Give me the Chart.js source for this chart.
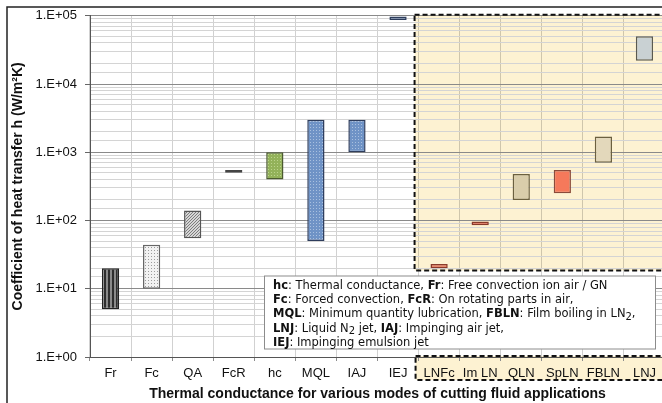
<!DOCTYPE html>
<html>
<head>
<meta charset="utf-8">
<script src="https://cdn.jsdelivr.net/npm/chart.js@4"></script>
<style>
  html, body { margin: 0; padding: 0; background: #fff; overflow: hidden; }
  #wrap { width: 668px; height: 403px; }
</style>
</head>
<body>
<div id="wrap"><canvas id="htcChart" width="668" height="403"></canvas></div>
<script>
// Heat transfer coefficient ranges (W/m2K) per cooling mode
const categories = ["Fr", "Fc", "QA", "FcR", "hc", "MQL", "IAJ", "IEJ", "LNFc", "Im LN", "QLN", "SpLN", "FBLN", "LNJ"];
const hLow  = [5, 10, 55, 500, 400, 50, 1000, 87000, 20, 85, 200, 250, 700, 22000];
const hHigh = [20, 44, 140, 550, 1000, 3000, 3000, 98000, 23, 97, 480, 550, 1700, 50000];
const yMin = 1;
const yMax = 100000;

// cryogenic group gets the shaded box
const cryoStart = "LNFc";
const cryoFloor = 18.5;

const notes = [
    [["hc", 1], [": Thermal conductance, "], ["Fr", 1], [": Free convection ion air / GN"]],
    [["Fc", 1], [": Forced convection, "], ["FcR", 1], [": On rotating parts in air,"]],
    [["MQL", 1], [": Minimum quantity lubrication, "], ["FBLN", 1], [": Film boiling in LN"], ["2", 2], [","]],
    [["LNJ", 1], [": Liquid N"], ["2", 2], [" jet, "], ["IAJ", 1], [": Impinging air jet,"]],
    [["IEJ", 1], [": Impinging emulsion jet"]]
];

function makePattern(kind, bg, fg) {
    const c = document.createElement("canvas");
    const n = kind === "vstripe" ? 4 : 3;
    c.width = n; c.height = n;
    const g = c.getContext("2d");
    g.fillStyle = bg;
    g.fillRect(0, 0, n, n);
    g.fillStyle = fg;
    if (kind === "vstripe") {
        g.fillRect(0, 0, 2, n);
    } else if (kind === "dots") {
        g.fillRect(1, 1, 1, 1);
    } else if (kind === "diag") {
        for (let i = 0; i < n; i++) g.fillRect(i, n - 1 - i, 1, 1);
    }
    return document.getElementById("htcChart").getContext("2d").createPattern(c, "repeat");
}

const fills = [
    makePattern("vstripe", "#8a8a8a", "#2e2e2e"),
    makePattern("dots", "#f2f2f2", "#9c9c9c"),
    makePattern("diag", "#d6d6d6", "#7c7c7c"),
    makePattern("diag", "#f4f4f4", "#a0a0a0"),
    makePattern("dots", "#93b25a", "#bcd48c"),
    makePattern("dots", "#6f93c6", "#a9c0df"),
    makePattern("dots", "#6f93c6", "#a9c0df"),
    "#8499bb",
    "#e8745a",
    "#e8745a",
    "#d9cdab",
    "#f5795b",
    "#e3d8bb",
    "#c9d1d3"
];
const edges = ["#222", "#666", "#555", "#444", "#4b5a30", "#2e3d5c", "#2e3d5c", "#2e3d5c",
               "#8a3a2a", "#8a3a2a", "#6b6040", "#8a4a3a", "#6b6040", "#5a5a50"];

const cryoBox = {
    id: "cryoBox",
    beforeDraw(chart) {
        const { ctx, chartArea, scales } = chart;
        const x = scales.x, y = scales.y;
        const half = (x.getPixelForValue(1) - x.getPixelForValue(0)) / 2;
        const left = x.getPixelForValue(categories.indexOf(cryoStart)) - half - 4;
        ctx.save();
        ctx.fillStyle = "#fdf2d2";
        ctx.fillRect(left, chartArea.top - 1, chart.width - left, y.getPixelForValue(cryoFloor) - chartArea.top + 1);
        ctx.fillRect(left + 1, chartArea.bottom - 1, chart.width - left, 24);
        ctx.restore();
    },
    afterDraw(chart) {
        const { ctx, chartArea, scales } = chart;
        const x = scales.x, y = scales.y;
        const half = (x.getPixelForValue(1) - x.getPixelForValue(0)) / 2;
        const left = x.getPixelForValue(categories.indexOf(cryoStart)) - half - 4;
        ctx.save();
        ctx.strokeStyle = "#111";
        ctx.lineWidth = 2;
        ctx.setLineDash([5, 3]);
        ctx.strokeRect(left, chartArea.top - 1, chart.width - left + 10, y.getPixelForValue(cryoFloor) - chartArea.top + 1);
        ctx.strokeRect(left + 1, chartArea.bottom - 1, chart.width - left + 10, 24);
        ctx.restore();

        // outer frame
        ctx.save();
        ctx.strokeStyle = "#222";
        ctx.lineWidth = 1.5;
        ctx.beginPath();
        ctx.moveTo(7, chart.height);
        ctx.lineTo(7, 7);
        ctx.lineTo(chart.width, 7);
        ctx.stroke();
        ctx.restore();

        // abbreviations box
        const bx = 264.5, by = 276, bw = 391, bh = 73;
        ctx.save();
        ctx.fillStyle = "#fff";
        ctx.fillRect(bx, by, bw, bh);
        ctx.strokeStyle = "#8c8c8c";
        ctx.lineWidth = 1;
        ctx.strokeRect(bx, by, bw, bh);
        ctx.fillStyle = "#111";
        ctx.textBaseline = "middle";
        notes.forEach((line, i) => {
            let cx = bx + 8.5;
            const cy = by + 10 + i * 14.2;
            line.forEach(([t, kind]) => {
                if (kind === 2) {
                    ctx.font = "10px 'DejaVu Sans'";
                    ctx.fillText(t, cx, cy + 3);
                } else {
                    ctx.font = (kind === 1 ? "bold " : "") + "11.5px 'DejaVu Sans'";
                    ctx.fillText(t, cx, cy);
                }
                cx += ctx.measureText(t).width;
            });
        });
        ctx.restore();
    }
};

function decadeLabel(v) {
    const e = Math.log10(v);
    if (Math.abs(e - Math.round(e)) > 1e-9) return "";
    const p = Math.round(e);
    return "1.E+" + (p < 10 ? "0" : "") + p;
}

new Chart(document.getElementById("htcChart"), {
    type: "bar",
    data: {
        labels: categories,
        datasets: [{
            data: hLow.map((lo, i) => [lo, hHigh[i]]),
            backgroundColor: fills,
            borderColor: edges,
            borderWidth: 1.5,
            borderSkipped: false,
            barPercentage: 0.42,
            categoryPercentage: 1
        }]
    },
    options: {
        responsive: false,
        animation: false,
        layout: { padding: { top: 15, right: 3, left: 0, bottom: 0 } },
        plugins: {
            legend: { display: false },
            tooltip: { enabled: false }
        },
        scales: {
            x: {
                afterFit: s => { s.height = 46; },
                grid: {
                    color: "rgba(0,0,0,0.18)",
                    tickColor: "#8c8c8c",
                    tickLength: 4,
                    offset: true
                },
                border: { color: "#555", width: 1 },
                ticks: {
                    color: "#111",
                    font: { family: "'Liberation Sans', Arial", size: 13 },
                    padding: 5,
                    maxRotation: 0,
                    autoSkip: false
                },
                title: {
                    display: true,
                    text: "Thermal conductance for various modes of cutting fluid applications",
                    color: "#111",
                    font: { family: "'Liberation Sans', Arial", size: 14, weight: "bold" },
                    padding: { top: 0, bottom: 0 }
                }
            },
            y: {
                type: "logarithmic",
                min: yMin,
                max: yMax,
                afterFit: s => { s.width = 90; },
                grid: {
                    color: ctx => decadeLabel(ctx.tick.value) ? "#8a8a8a" : "#d4d4d4",
                    tickColor: ctx => decadeLabel(ctx.tick.value) ? "#666" : "rgba(0,0,0,0)",
                    tickLength: 5
                },
                border: { color: "#555", width: 1 },
                ticks: {
                    autoSkip: false,
                    color: "#111",
                    font: { family: "'Liberation Sans', Arial", size: 13 },
                    padding: 8,
                    callback: v => decadeLabel(v)
                },
                title: {
                    display: true,
                    text: "Coefficient of heat transfer h (W/m\u00B2K)",
                    color: "#111",
                    font: { family: "'Liberation Sans', Arial", size: 14, weight: "bold" },
                    padding: { top: 10, bottom: 0 }
                }
            }
        }
    },
    plugins: [cryoBox]
});
</script>
</body>
</html>
